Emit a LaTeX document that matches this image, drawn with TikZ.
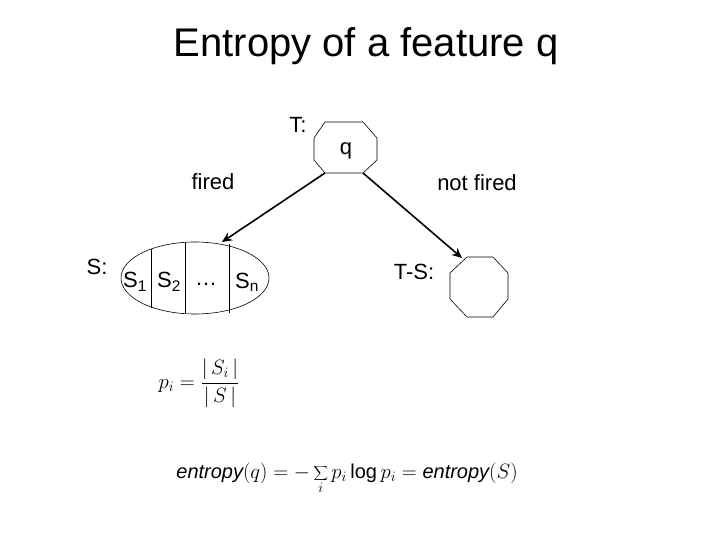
\documentclass[tikz,border=0pt]{standalone}
\usepackage{fontspec}
\usetikzlibrary{shapes.geometric,arrows.meta}
\setmainfont{Liberation Sans}
\begin{document}
\begin{tikzpicture}[x=1pt,y=-1pt,
  lbl/.style={font=\fontsize{22}{24}\selectfont, inner sep=0pt},
  shp/.style={draw, line width=0.6pt},
  arr/.style={draw, line width=1.6pt, -{Stealth[length=10pt,width=9pt]}}]
\useasboundingbox (0,0) rectangle (720,540);
\node[font=\fontsize{40}{44}\selectfont] (title) at (366,46) {Entropy of a feature q};
% octagon q
\draw[shp] (325,122) -- (363,122) -- (377,138) -- (377,160) -- (363,173) -- (325,173) -- (314,160) -- (314,138) -- cycle;
\node[lbl] (q) at (346,151) {q};
\coordinate (qbl) at (325,173);
\coordinate (qbr) at (363,173);
% octagon T-S
\draw[shp] (467,257) -- (493,257) -- (508,273) -- (508,299) -- (493,317) -- (467,317) -- (450,299) -- (450,273) -- cycle;
\coordinate (ts) at (462,258);
% ellipse
\node[shp, ellipse, minimum width=148pt, minimum height=72pt, inner sep=0pt] (S) at (195,278) {};
\draw[shp] (151,249) -- (151,308);
\draw[shp] (185,243) -- (185,313);
\draw[shp] (229,244) -- (229,313);
\coordinate (st) at (222,242);
\draw[arr] (qbl) -- (st);
\draw[arr] (qbr) -- (ts);
\node[lbl] (T) at (298,125) {T:};
\node[lbl] (fired) at (213,182) {fired};
\node[lbl] (nf) at (477,183) {not fired};
\node[lbl] (Sl) at (97,267) {S:};
\node[lbl] (TS) at (414,272) {T-S:};
\node[lbl] (s1) at (135,282) {S\textsubscript{1}};
\node[lbl] (s2) at (169,282) {S\textsubscript{2}};
\node[lbl] (dots) at (206,284) {\ldots};
\node[lbl] (sn) at (247,282) {S\textsubscript{n}};
\node[font=\fontsize{20}{22}\selectfont] (pi) at (199,383) {$\displaystyle p_i=\frac{|\,S_i\,|}{|\,S\,|}$};
\node[font=\fontsize{20}{22}\selectfont] (ent) at (347,478) {$\displaystyle \mathit{entropy}(q)=-\sum_i p_i\log p_i=\mathit{entropy}(S)$};
\end{tikzpicture}
\end{document}
